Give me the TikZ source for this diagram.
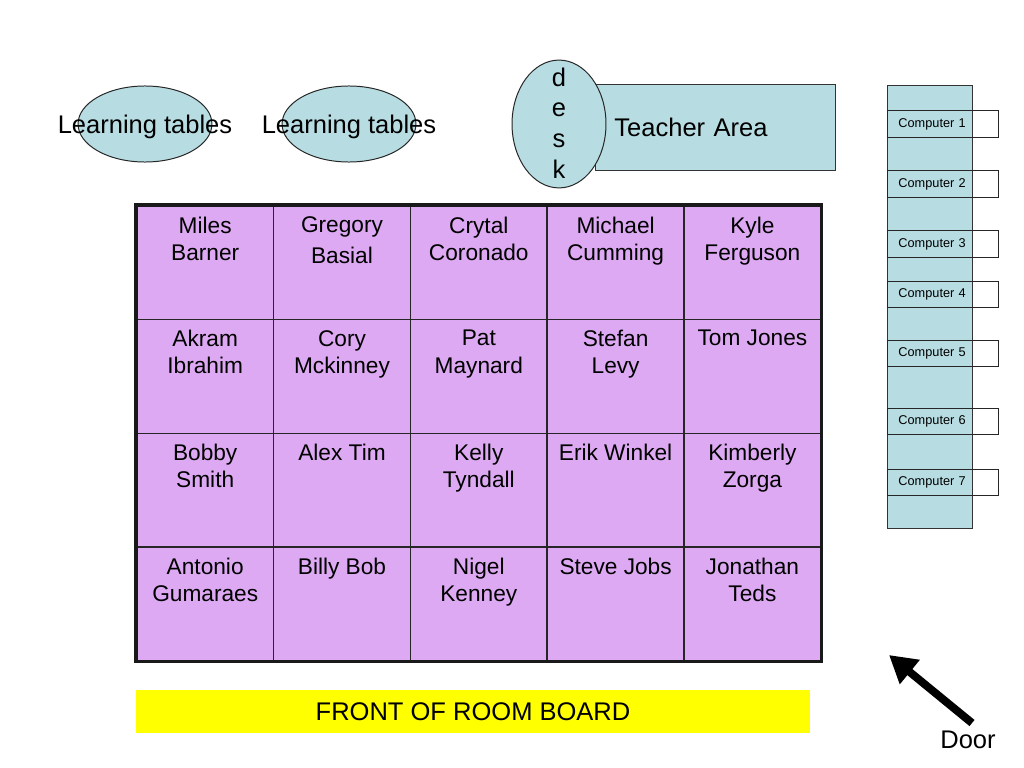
\documentclass[tikz,border=0pt]{standalone}
\usepackage{fontspec}
\setmainfont{Liberation Sans}
\usetikzlibrary{arrows.meta,positioning,shapes.geometric}
\definecolor{roomteal}{HTML}{B7DDE3}
\definecolor{seatlilac}{HTML}{DDA9F2}
\definecolor{boardyel}{HTML}{FFFF00}

\begin{document}
\begin{tikzpicture}[
  x=0.0248cm, y=-0.0248cm,
  oval/.style={ellipse, draw=black!85, line width=0.7pt, fill=roomteal, inner sep=0pt},
  big/.style={font=\fontsize{18}{21.6}\selectfont, text=black},
  cell/.style={draw=black!85, line width=1.1pt, fill=seatlilac, anchor=north west,
               minimum width=3.3926cm, minimum height=2.821cm, inner sep=0pt},
  who/.style={font=\fontsize{16}{19.2}\selectfont, align=center, anchor=north, inner sep=0pt},
  pcbox/.style={draw=black!85, line width=0.7pt, anchor=west, font=\fontsize{9}{10.8}\selectfont,
                text width=2.2cm, align=left, inner xsep=0.27cm, minimum height=0.645cm},
  ar/.style={-{Triangle[length=19pt,width=21pt]}, line width=5.6pt, black},
]
\useasboundingbox (0,0) rectangle (1024,768);

% Tables d'apprentissage
\node[oval, minimum width=3.32cm, minimum height=1.885cm] (lt1) at (145,124) {};
\node[big] (lt1txt) at (145,127) {Learning tables};
\node[oval, minimum width=3.32cm, minimum height=1.885cm] (lt2) at (349,124) {};
\node[big] (lt2txt) at (349,127) {Learning tables};

% Zone du professeur + bureau
\node[draw=black!80, line width=0.7pt, fill=roomteal, anchor=west, big, text width=5.0cm,
      align=left, inner xsep=0.47cm, minimum height=2.11cm] (teach) at (595,127.5) {Teacher Area};
\node[oval, minimum width=2.33cm, minimum height=3.17cm] (desk) at (559,124) {};
\node[big, align=center, inner sep=0pt] (desktxt) at (559,123) {d\\e\\s\\k};

% Places des eleves
\foreach \who [count=\k from 0] in {
  {Miles\\Barner},{Gregory\\[3pt]Basial},{Crytal\\Coronado},{Michael\\Cumming},{Kyle\\Ferguson},
  {Akram\\Ibrahim},{Cory\\Mckinney},{Pat\\Maynard},{Stefan\\Levy},{Tom Jones},
  {Bobby\\Smith},{Alex Tim},{Kelly\\Tyndall},{Erik Winkel},{Kimberly\\Zorga},
  {Antonio\\Gumaraes},{Billy Bob},{Nigel\\Kenney},{Steve Jobs},{Jonathan\\Teds}}{
  \pgfmathtruncatemacro\r{floor(\k/5)+1}
  \pgfmathtruncatemacro\c{mod(\k,5)+1}
  \node[cell] (c\r\c) at ({136+(\c-1)*136.8},{205+(\r-1)*113.75}) {};
  \node[who, below=0.28cm of c\r\c.north] (n\r\c) {\who};
}
\draw[line width=2.2pt, black!90] (c11.north west) rectangle (c45.south east);

% Tableau
\node[fill=boardyel, minimum width=16.72cm, minimum height=1.066cm, big] (board) at (473,711.5)
  {FRONT OF ROOM BOARD};

% Ordinateurs
\node[draw=black!80, line width=0.7pt, fill=roomteal, anchor=north west, minimum width=2.108cm,
      minimum height=10.99cm, inner sep=0pt] (bank) at (887,85) {};
\node[pcbox] (pc1) at (887,124) {Computer 1};
\node[pcbox] (pc2) at (887,184) {Computer 2};
\node[pcbox] (pc3) at (887,244) {Computer 3};
\node[pcbox] (pc4) at (887,294.5) {Computer 4};
\node[pcbox] (pc5) at (887,353.5) {Computer 5};
\node[pcbox] (pc6) at (887,421) {Computer 6};
\node[pcbox] (pc7) at (887,482) {Computer 7};

% Porte
\node[big] (door) at (968,740) {Door};
\coordinate (doortail) at (972,723);
\coordinate (doorin) at (889,655);
\draw[ar] (doortail) -- (doorin);
\end{tikzpicture}
\end{document}
